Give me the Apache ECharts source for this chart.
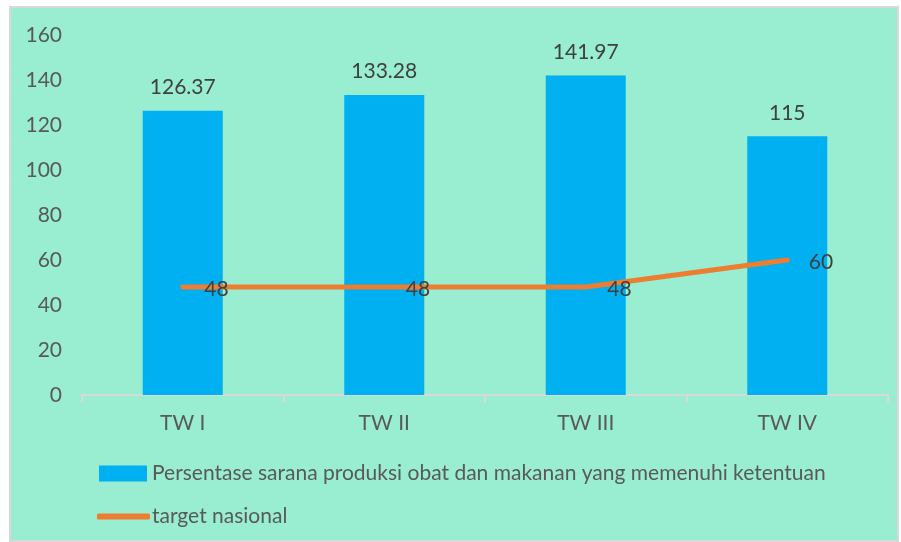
<!DOCTYPE html>
<html>
<head>
<meta charset="utf-8">
<script src="https://cdn.jsdelivr.net/npm/echarts@6/dist/echarts.min.js"></script>
<style>
  body { margin: 0; background: #ffffff; }
  .frame {
    position: absolute;
    left: 9px;
    top: 6px;
    width: 886px;
    height: 532px;
    border: 2px solid #d9d9d9;
    background: #99edd0;
  }
  #chart { position: absolute; left: 0; top: 0; width: 901px; height: 542px; }
</style>
</head>
<body>
<div class="frame"></div>
<div id="chart"></div>
<script>
const categories = ['TW I', 'TW II', 'TW III', 'TW IV']
const persentase = [126.37, 133.28, 141.97, 115]
const target = [48, 48, 48, 60]
const barName = 'Persentase sarana produksi obat dan makanan yang memenuhi ketentuan'
const lineName = 'target nasional'

const font = 'Lato, "Open Sans", sans-serif'
const fs = 21

const chart = echarts.init(document.getElementById('chart'))
chart.setOption({
  backgroundColor: 'transparent',
  textStyle: { fontFamily: font },
  legend: [
    {
      data: [barName],
      left: 99,
      top: 463,
      padding: 0,
      icon: 'rect',
      itemWidth: 48,
      itemHeight: 16,
      itemGap: 6,
      textStyle: { fontSize: fs, color: '#595959', fontFamily: font }
    },
    {
      data: [lineName],
      left: 97,
      top: 506,
      padding: 0,
      icon: 'roundRect',
      itemWidth: 53,
      itemHeight: 6,
      textStyle: { fontSize: fs, color: '#595959', fontFamily: font, padding: [0, 0, 0, -3] }
    }
  ],
  grid: {
    left: 82,
    right: 13,
    top: 35,
    bottom: 147
  },
  xAxis: {
    type: 'category',
    data: categories,
    axisLine: { lineStyle: { color: '#d9d9d9', width: 2 } },
    axisTick: { show: true, length: 7, lineStyle: { color: '#d9d9d9', width: 2 } },
    axisLabel: { fontSize: fs, color: '#595959', margin: 18 }
  },
  yAxis: {
    type: 'value',
    min: 0,
    max: 160,
    interval: 20,
    axisLine: { show: false },
    axisTick: { show: false },
    splitLine: { show: false },
    axisLabel: { fontSize: fs, color: '#595959', margin: 20 }
  },
  series: [
    {
      name: barName,
      type: 'bar',
      data: persentase,
      barWidth: 80,
      itemStyle: { color: '#00b0f0' },
      label: {
        show: true,
        position: 'top',
        distance: 13,
        fontSize: fs,
        color: '#404040'
      }
    },
    {
      name: lineName,
      type: 'line',
      data: target,
      symbol: 'circle',
      symbolSize: 1,
      itemStyle: { color: '#ed7d31' },
      lineStyle: { color: '#ed7d31', width: 5, cap: 'round' },
      label: {
        show: true,
        position: 'right',
        distance: 21,
        offset: [0, 2],
        fontSize: fs,
        color: '#404040'
      }
    }
  ]
})
</script>
</body>
</html>
